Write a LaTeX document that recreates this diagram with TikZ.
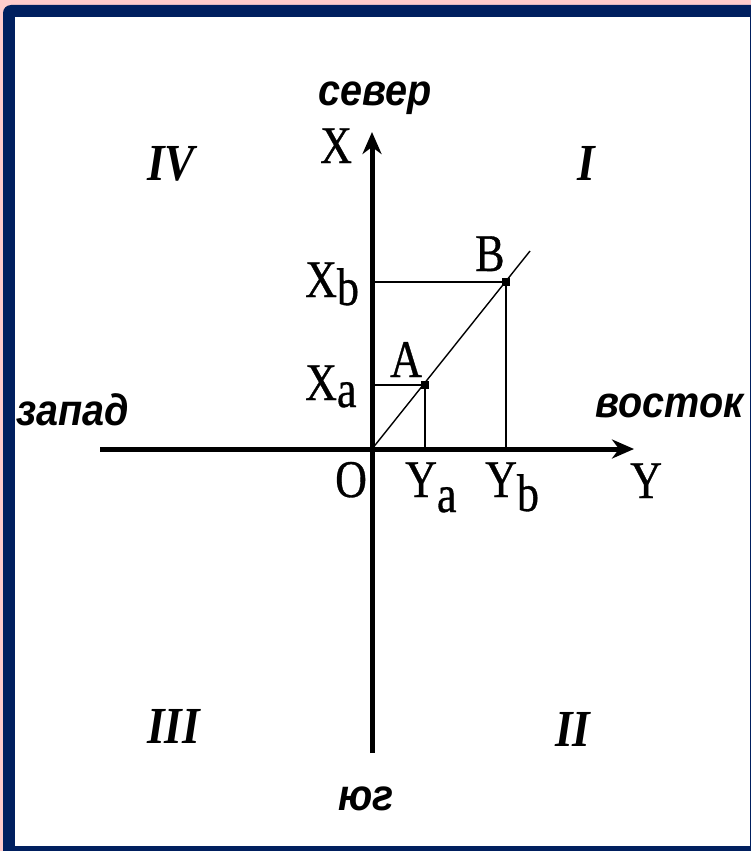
\documentclass[tikz,border=0pt]{standalone}
\usepackage{fontspec}
\setmainfont{Liberation Serif}
\newfontfamily\wordfont[FakeStretch=0.9]{Liberation Sans}
\newfontfamily\letfont[FakeStretch=0.83,FakeBold=0.6]{Liberation Serif}
\newfontfamily\quadfont[FakeStretch=0.87]{Liberation Serif}
\usetikzlibrary{arrows.meta}
\definecolor{pinkbg}{HTML}{FFCCCC}
\definecolor{navyframe}{HTML}{001F5F}
\tikzset{
  axis/.style={line width=5pt},
  axarrow/.style={-{Stealth[length=22pt,width=19pt,inset=7pt]}},
  proj/.style={line width=2.6pt},
  diag/.style={line width=1.4pt},
  letter/.style={font=\letfont\fontsize{53}{53}\selectfont, inner sep=0pt, anchor=base west},
  word/.style={font=\wordfont\bfseries\itshape\fontsize{44}{44}\selectfont, inner sep=0pt, anchor=base west},
  quad/.style={font=\quadfont\bfseries\itshape\fontsize{52}{52}\selectfont, inner sep=0pt, anchor=base west},
  pt/.style={fill=black, minimum size=7.5pt, inner sep=0pt, draw=none, rectangle}
}
\newcommand{\lowsub}[2]{\raisebox{-#1pt}{#2}}
\begin{document}
\begin{tikzpicture}[x=1pt,y=-1pt]
\useasboundingbox (0,0) rectangle (751,851);
\fill[pinkbg] (0,0) rectangle (751,851);
\fill[navyframe] (751,851) -- (3,851) [rounded corners=8pt] -- (3,5) [sharp corners] -- (751,5) -- cycle;
\fill[white] (15,17) rectangle (750,846);

% coordinates
\coordinate (O) at (372,449);
\coordinate (xtop) at (372,132);
\coordinate (xbot) at (372,753);
\coordinate (yleft) at (100,449);
\coordinate (yright) at (634,449);
\coordinate (Xaf) at (372,385);
\coordinate (Xbf) at (372,282);
\coordinate (Yaf) at (425,449);
\coordinate (Ybf) at (506,449);
\coordinate (dend) at (530,251);
\node[pt] (A) at (425,385) {};
\node[pt] (B) at (506,282) {};

% projections and diagonal
\draw[diag] (O) -- (dend);
\draw[proj] (Xaf) -- (A.center) -- (Yaf);
\draw[proj] (Xbf) -- (B.center) -- (Ybf);

% axes
\draw[axis, axarrow] (xbot) -- (xtop);
\draw[axis, axarrow] (yleft) -- (yright);

% labels
\node[letter] (lX) at (320,163) {X};
\node[letter] (lY) at (630,498) {Y};
\node[letter] (lO) at (335,497) {O};
\node[letter] (lA) at (390,377) {A};
\node[letter] (lB) at (475,271) {B};
\node[letter] (lXb) at (305,297) {X\lowsub{8}{b}};
\node[letter] (lXa) at (305,400) {X\lowsub{7}{a}};
\node[letter] (lYa) at (405,497) {Y\lowsub{15}{a}};
\node[letter] (lYb) at (485,497) {Y\lowsub{14}{b}};

\node[word] (north) at (318,105) {север};
\node[word] (east) at (595,417) {восток};
\node[word] (west) at (16,425) {запад};
\node[word] (south) at (338,810) {юг};

\node[quad] (q4) at (147,180) {IV};
\node[quad, anchor=base] (q1) at (586,180) {I};
\node[quad] (q3) at (147,743) {III};
\node[quad] (q2) at (555,746) {II};
\end{tikzpicture}
\end{document}
